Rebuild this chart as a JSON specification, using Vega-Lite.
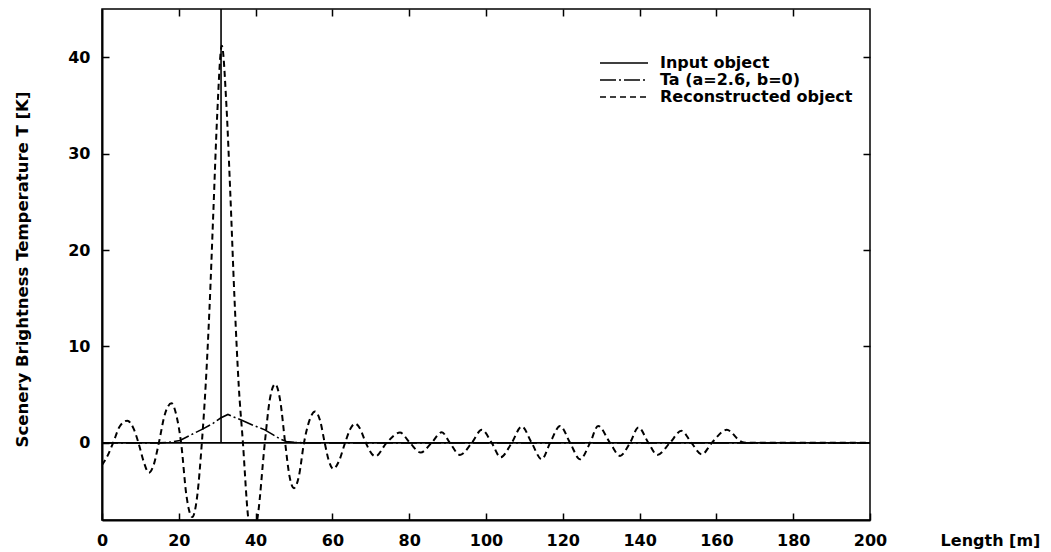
{
  "$schema": "https://vega.github.io/schema/vega-lite/v6.json",
  "autosize": {"type": "none"},
  "width": 768,
  "height": 511,
  "padding": {"left": 102, "top": 9, "right": 181, "bottom": 32},
  "background": "white",
  "config": {
    "view": {"stroke": "black", "strokeWidth": 1.5},
    "font": "DejaVu Sans",
    "axis": {
      "domainColor": "black", "domainWidth": 2, "tickColor": "black", "tickWidth": 1.5,
      "labelColor": "black", "labelFont": "DejaVu Sans", "labelFontWeight": "bold", "labelFontSize": 16,
      "titleColor": "black", "titleFont": "DejaVu Sans", "titleFontWeight": "bold", "titleFontSize": 16,
      "grid": false, "labelFlush": false, "labelOverlap": false
    },
    "legend": {"labelFont": "DejaVu Sans", "labelFontWeight": "bold", "labelFontSize": 16, "labelColor": "black", "labelLimit": 400}
  },
  "datasets": {
    "input": [
      {"series": "Input object", "i": 0, "x": 0, "y": 0},
      {"series": "Input object", "i": 1, "x": 31, "y": 0},
      {"series": "Input object", "i": 2, "x": 31, "y": 60},
      {"series": "Input object", "i": 3, "x": 31, "y": 0},
      {"series": "Input object", "i": 4, "x": 200, "y": 0}
    ],
    "ta": [
      {"series": "Ta (a=2.6, b=0)", "x": 0, "y": 0},
      {"series": "Ta (a=2.6, b=0)", "x": 15, "y": 0},
      {"series": "Ta (a=2.6, b=0)", "x": 18, "y": 0.08},
      {"series": "Ta (a=2.6, b=0)", "x": 20.3, "y": 0.25},
      {"series": "Ta (a=2.6, b=0)", "x": 23, "y": 0.8},
      {"series": "Ta (a=2.6, b=0)", "x": 26.3, "y": 1.45},
      {"series": "Ta (a=2.6, b=0)", "x": 29, "y": 2.05},
      {"series": "Ta (a=2.6, b=0)", "x": 31, "y": 2.6},
      {"series": "Ta (a=2.6, b=0)", "x": 32.8, "y": 2.95},
      {"series": "Ta (a=2.6, b=0)", "x": 34.5, "y": 2.65},
      {"series": "Ta (a=2.6, b=0)", "x": 36.7, "y": 2.3},
      {"series": "Ta (a=2.6, b=0)", "x": 39.5, "y": 1.8},
      {"series": "Ta (a=2.6, b=0)", "x": 42.4, "y": 1.35},
      {"series": "Ta (a=2.6, b=0)", "x": 44.5, "y": 0.85},
      {"series": "Ta (a=2.6, b=0)", "x": 46.4, "y": 0.4},
      {"series": "Ta (a=2.6, b=0)", "x": 48, "y": 0.15},
      {"series": "Ta (a=2.6, b=0)", "x": 50, "y": 0.05},
      {"series": "Ta (a=2.6, b=0)", "x": 53, "y": 0},
      {"series": "Ta (a=2.6, b=0)", "x": 200, "y": 0}
    ],
    "rec": [
      {"series": "Reconstructed object", "x": 0, "y": -2.3},
      {"series": "Reconstructed object", "x": 1.5, "y": -1.3},
      {"series": "Reconstructed object", "x": 2.9, "y": 0},
      {"series": "Reconstructed object", "x": 4.6, "y": 1.7},
      {"series": "Reconstructed object", "x": 6.6, "y": 2.3},
      {"series": "Reconstructed object", "x": 8.2, "y": 1.5},
      {"series": "Reconstructed object", "x": 9.5, "y": 0},
      {"series": "Reconstructed object", "x": 10.9, "y": -2.0},
      {"series": "Reconstructed object", "x": 12.2, "y": -3.1},
      {"series": "Reconstructed object", "x": 13.6, "y": -2.1},
      {"series": "Reconstructed object", "x": 14.8, "y": 0},
      {"series": "Reconstructed object", "x": 16.4, "y": 3.0},
      {"series": "Reconstructed object", "x": 18.1, "y": 4.1},
      {"series": "Reconstructed object", "x": 19.4, "y": 2.8},
      {"series": "Reconstructed object", "x": 20.6, "y": 0},
      {"series": "Reconstructed object", "x": 22.0, "y": -5.5},
      {"series": "Reconstructed object", "x": 23.5, "y": -7.7},
      {"series": "Reconstructed object", "x": 24.8, "y": -5.5},
      {"series": "Reconstructed object", "x": 26.0, "y": 0},
      {"series": "Reconstructed object", "x": 27.0, "y": 6},
      {"series": "Reconstructed object", "x": 28.0, "y": 14},
      {"series": "Reconstructed object", "x": 29.0, "y": 24},
      {"series": "Reconstructed object", "x": 30.0, "y": 34},
      {"series": "Reconstructed object", "x": 31.2, "y": 41.2},
      {"series": "Reconstructed object", "x": 32.4, "y": 35},
      {"series": "Reconstructed object", "x": 33.4, "y": 26},
      {"series": "Reconstructed object", "x": 34.5, "y": 15},
      {"series": "Reconstructed object", "x": 35.6, "y": 6},
      {"series": "Reconstructed object", "x": 36.7, "y": 0},
      {"series": "Reconstructed object", "x": 38.0, "y": -7.5},
      {"series": "Reconstructed object", "x": 39.3, "y": -10},
      {"series": "Reconstructed object", "x": 40.6, "y": -7.5},
      {"series": "Reconstructed object", "x": 42.4, "y": 0},
      {"series": "Reconstructed object", "x": 43.7, "y": 4.5},
      {"series": "Reconstructed object", "x": 45.1, "y": 6.1},
      {"series": "Reconstructed object", "x": 46.4, "y": 4.4},
      {"series": "Reconstructed object", "x": 47.7, "y": 0},
      {"series": "Reconstructed object", "x": 48.8, "y": -3.4},
      {"series": "Reconstructed object", "x": 50.0, "y": -4.7},
      {"series": "Reconstructed object", "x": 51.3, "y": -3.4},
      {"series": "Reconstructed object", "x": 52.6, "y": 0},
      {"series": "Reconstructed object", "x": 54.0, "y": 2.3},
      {"series": "Reconstructed object", "x": 55.5, "y": 3.25},
      {"series": "Reconstructed object", "x": 56.8, "y": 2.3},
      {"series": "Reconstructed object", "x": 58.0, "y": 0},
      {"series": "Reconstructed object", "x": 59.1, "y": -1.9},
      {"series": "Reconstructed object", "x": 60.2, "y": -2.7},
      {"series": "Reconstructed object", "x": 61.7, "y": -1.9},
      {"series": "Reconstructed object", "x": 63.3, "y": 0},
      {"series": "Reconstructed object", "x": 64.6, "y": 1.4},
      {"series": "Reconstructed object", "x": 65.9, "y": 2.0},
      {"series": "Reconstructed object", "x": 67.3, "y": 1.4},
      {"series": "Reconstructed object", "x": 68.7, "y": 0},
      {"series": "Reconstructed object", "x": 71.2, "y": -1.4},
      {"series": "Reconstructed object", "x": 74.1, "y": 0},
      {"series": "Reconstructed object", "x": 77.6, "y": 1.07},
      {"series": "Reconstructed object", "x": 80.2, "y": 0},
      {"series": "Reconstructed object", "x": 83.0, "y": -1.0},
      {"series": "Reconstructed object", "x": 85.8, "y": 0},
      {"series": "Reconstructed object", "x": 88.5, "y": 1.1},
      {"series": "Reconstructed object", "x": 90.6, "y": 0},
      {"series": "Reconstructed object", "x": 93.2, "y": -1.25},
      {"series": "Reconstructed object", "x": 96.3, "y": 0},
      {"series": "Reconstructed object", "x": 98.9, "y": 1.35},
      {"series": "Reconstructed object", "x": 101.5, "y": 0},
      {"series": "Reconstructed object", "x": 103.8, "y": -1.5},
      {"series": "Reconstructed object", "x": 106.7, "y": 0},
      {"series": "Reconstructed object", "x": 109.3, "y": 1.7},
      {"series": "Reconstructed object", "x": 111.9, "y": 0},
      {"series": "Reconstructed object", "x": 114.5, "y": -1.7},
      {"series": "Reconstructed object", "x": 116.7, "y": 0},
      {"series": "Reconstructed object", "x": 119.3, "y": 1.75},
      {"series": "Reconstructed object", "x": 121.9, "y": 0},
      {"series": "Reconstructed object", "x": 124.5, "y": -1.7},
      {"series": "Reconstructed object", "x": 127.1, "y": 0},
      {"series": "Reconstructed object", "x": 129.2, "y": 1.75},
      {"series": "Reconstructed object", "x": 132.3, "y": 0},
      {"series": "Reconstructed object", "x": 134.9, "y": -1.35},
      {"series": "Reconstructed object", "x": 137.5, "y": 0},
      {"series": "Reconstructed object", "x": 139.7, "y": 1.6},
      {"series": "Reconstructed object", "x": 142.3, "y": 0},
      {"series": "Reconstructed object", "x": 144.6, "y": -1.25},
      {"series": "Reconstructed object", "x": 147.9, "y": 0},
      {"series": "Reconstructed object", "x": 150.9, "y": 1.25},
      {"series": "Reconstructed object", "x": 153.5, "y": 0},
      {"series": "Reconstructed object", "x": 156.2, "y": -1.2},
      {"series": "Reconstructed object", "x": 158.8, "y": 0},
      {"series": "Reconstructed object", "x": 162.7, "y": 1.35},
      {"series": "Reconstructed object", "x": 166.6, "y": 0.1},
      {"series": "Reconstructed object", "x": 168.5, "y": 0},
      {"series": "Reconstructed object", "x": 200, "y": 0}
    ]
  },
  "resolve": {"axis": {"x": "independent", "y": "independent"}},
  "layer": [
    {
      "data": {"name": "input"},
      "mark": {"type": "line", "clip": true, "color": "black", "strokeWidth": 1.6, "interpolate": "linear"},
      "encoding": {
        "x": {"field": "x", "type": "quantitative", "scale": {"domain": [0, 200], "nice": false},
          "axis": {"orient": "bottom", "values": [0,20,40,60,80,100,120,140,160,180,200], "tickSize": -7, "labelPadding": 19,
            "title": "Length [m]", "titleX": 888, "titleY": 20, "titleAlign": "center", "titleBaseline": "middle", "titleAngle": 0}},
        "y": {"field": "y", "type": "quantitative", "scale": {"domain": [-8, 45], "nice": false, "zero": false},
          "axis": {"orient": "left", "values": [0,10,20,30,40], "tickSize": -7, "labelPadding": 19,
            "title": "Scenery Brightness Temperature T [K]", "titleX": -80, "titleY": 260, "titleAlign": "center", "titleBaseline": "middle", "titleAngle": -90, "titleFontSize": 16.5}},
        "order": {"field": "i", "type": "quantitative"},
        "strokeDash": {"field": "series", "type": "nominal",
          "scale": {"domain": ["Input object", "Ta (a=2.6, b=0)", "Reconstructed object"], "range": [[1, 0], [16, 3, 2, 3], [6, 4]]},
          "legend": {"orient": "none", "legendX": 514, "legendY": 46, "title": null, "symbolType": "M-4,0H4", "symbolSize": 144,
            "symbolStrokeWidth": 1.6, "symbolStrokeColor": "black", "labelOffset": 28, "rowPadding": 1, "symbolLimit": 3}}
      }
    },
    {
      "data": {"name": "ta"},
      "mark": {"type": "line", "clip": true, "color": "black", "strokeWidth": 1.6, "interpolate": "linear"},
      "encoding": {
        "x": {"field": "x", "type": "quantitative", "axis": {"orient": "top", "values": [20,40,60,80,100,120,140,160,180], "tickSize": -7, "labels": false, "title": null, "domain": false}},
        "y": {"field": "y", "type": "quantitative", "axis": {"orient": "right", "values": [10,20,30,40], "tickSize": -7, "labels": false, "title": null, "domain": false}},
        "strokeDash": {"field": "series", "type": "nominal"}
      }
    },
    {
      "data": {"name": "rec"},
      "mark": {"type": "line", "clip": true, "color": "black", "strokeWidth": 2, "interpolate": "monotone"},
      "encoding": {
        "x": {"field": "x", "type": "quantitative", "axis": null},
        "y": {"field": "y", "type": "quantitative", "axis": null},
        "strokeDash": {"field": "series", "type": "nominal"}
      }
    }
  ]
}
